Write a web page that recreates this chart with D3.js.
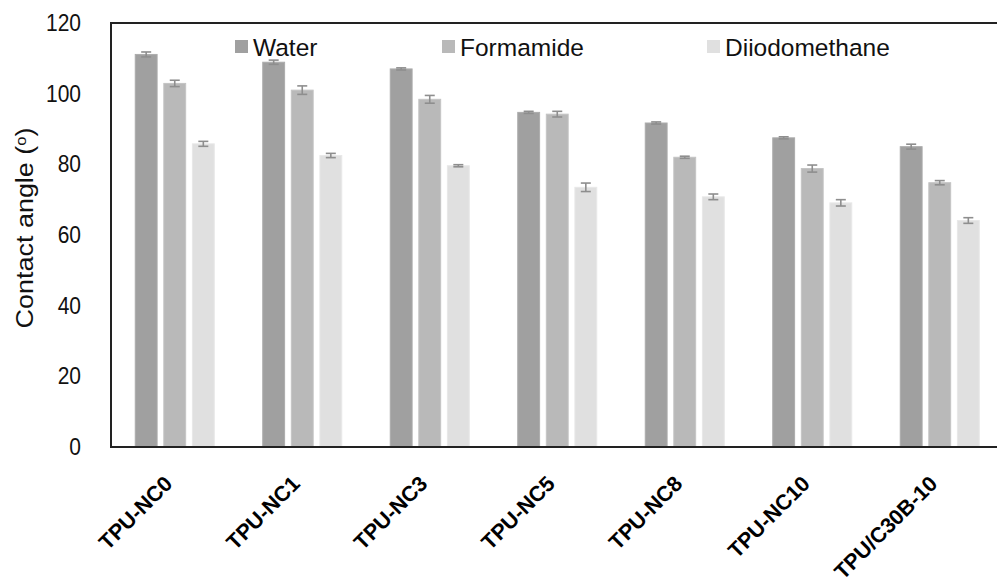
<!DOCTYPE html>
<html>
<head>
<meta charset="utf-8">
<script src="https://cdn.jsdelivr.net/npm/d3@7"></script>
<style>
  html, body { margin: 0; padding: 0; background: #fff; }
  svg { display: block; font-family: "Liberation Sans", Arial, sans-serif; }
</style>
</head>
<body>
<svg id="chart" width="997" height="586"></svg>
<script>
const categories = ["TPU-NC0", "TPU-NC1", "TPU-NC3", "TPU-NC5", "TPU-NC8", "TPU-NC10", "TPU/C30B-10"];
const seriesNames = ["Water", "Formamide", "Diiodomethane"];
const waterValues = [111.1, 108.9, 107.0, 94.7, 91.7, 87.5, 85.0];
const waterErrors = [0.7, 0.6, 0.3, 0.3, 0.3, 0.3, 0.7];
const formamideValues = [102.9, 101.0, 98.4, 94.2, 82.0, 78.8, 74.8];
const formamideErrors = [0.9, 1.2, 1.1, 0.8, 0.3, 1.0, 0.6];
const diiodoValues = [85.8, 82.5, 79.6, 73.5, 70.8, 69.1, 64.1];
const diiodoErrors = [0.7, 0.6, 0.3, 1.2, 0.8, 0.9, 0.8];
const yTicks = [0, 20, 40, 60, 80, 100, 120];

const colors = { "Water": "#a0a0a0", "Formamide": "#b9b9b9", "Diiodomethane": "#e0e0e0" };
const strokes = { "Water": "#acacac", "Formamide": "#c4c4c4", "Diiodomethane": "#e8e8e8" };

const seriesData = [
  { name: "Water", values: waterValues, errors: waterErrors },
  { name: "Formamide", values: formamideValues, errors: formamideErrors },
  { name: "Diiodomethane", values: diiodoValues, errors: diiodoErrors }
];

const svg = d3.select("#chart");
const mLeft = 111, mTop = 23, mBottom = 447, mRight = 1003.5;

const x0 = d3.scaleBand().domain(categories).range([mLeft, mRight]).padding(0);
const x1 = d3.scaleBand().domain(seriesNames).range([0, 80]).paddingInner(0.2).paddingOuter(0);
const y = d3.scaleLinear().domain([0, 120]).range([mBottom, mTop]);
const groupOffset = (x0.bandwidth() - 80) / 2;

// bars
const groups = svg.append("g").selectAll("g")
  .data(categories).join("g")
  .attr("transform", d => `translate(${x0(d) + groupOffset},0)`);

seriesData.forEach(s => {
  groups.append("rect")
    .attr("x", x1(s.name) + 0.5)
    .attr("width", x1.bandwidth() - 1)
    .attr("y", (d, i) => y(s.values[i]))
    .attr("height", (d, i) => mBottom - y(s.values[i]))
    .attr("fill", colors[s.name])
    .attr("stroke", strokes[s.name])
    .attr("stroke-width", 1);
});

// error bars
seriesData.forEach(s => {
  const cx = x1(s.name) + x1.bandwidth() / 2;
  const eg = groups.append("g").attr("stroke", "#8e8e8e").attr("stroke-width", 1.6).attr("fill", "none");
  eg.append("line")
    .attr("x1", cx).attr("x2", cx)
    .attr("y1", (d, i) => y(s.values[i] + s.errors[i]))
    .attr("y2", (d, i) => y(s.values[i] - s.errors[i]));
  eg.append("line")
    .attr("x1", cx - 5).attr("x2", cx + 5)
    .attr("y1", (d, i) => y(s.values[i] + s.errors[i]))
    .attr("y2", (d, i) => y(s.values[i] + s.errors[i]));
  eg.append("line")
    .attr("x1", cx - 5).attr("x2", cx + 5)
    .attr("y1", (d, i) => y(s.values[i] - s.errors[i]))
    .attr("y2", (d, i) => y(s.values[i] - s.errors[i]));
});

// frame
svg.append("path")
  .attr("d", `M${mRight},${mTop}H${mLeft}V${mBottom}H${mRight}`)
  .attr("fill", "none").attr("stroke", "#222").attr("stroke-width", 2);

// y axis labels
const yAxis = d3.axisLeft(y).tickValues(yTicks).tickSize(0).tickPadding(30);
const yg = svg.append("g").attr("transform", `translate(${mLeft},0)`).call(yAxis);
yg.select(".domain").remove();
yg.selectAll(".tick text").attr("font-size", 21).attr("fill", "#111")
  .attr("font-family", "Liberation Sans, Arial, sans-serif")
  .attr("transform", "scale(1,1.12)").attr("dy", "0.32em");

// x axis labels
const xAxis = d3.axisBottom(x0).tickSize(0);
const xg = svg.append("g").attr("transform", `translate(0,${mBottom})`).call(xAxis);
xg.select(".domain").remove();
xg.selectAll("text")
  .attr("font-size", 21.5).attr("font-weight", "bold").attr("fill", "#000")
  .attr("font-family", "Liberation Sans, Arial, sans-serif")
  .attr("text-anchor", "end")
  .attr("dy", null).attr("y", 0)
  .attr("transform", "translate(-1,38) rotate(-45)");

// y axis title
const title = svg.append("text")
  .attr("transform", "translate(33,228) rotate(-90) scale(1.1,1)")
  .attr("text-anchor", "middle")
  .attr("font-size", 24.5).attr("fill", "#111");
title.append("tspan").text("Contact angle (");
title.append("tspan").text("o").attr("font-size", 15).attr("baseline-shift", "45%");
title.append("tspan").text(")");

// legend
const legendX = [235, 442, 707];
const lg = svg.append("g").selectAll("g").data(seriesNames).join("g")
  .attr("transform", (d, i) => `translate(${legendX[i]},0)`);
lg.append("rect").attr("x", 0).attr("y", 40).attr("width", 13).attr("height", 13)
  .attr("fill", d => colors[d]);
lg.append("text").attr("x", 18).attr("y", 56).text(d => d)
  .attr("font-size", 24.5).attr("fill", "#111");
</script>
</body>
</html>
